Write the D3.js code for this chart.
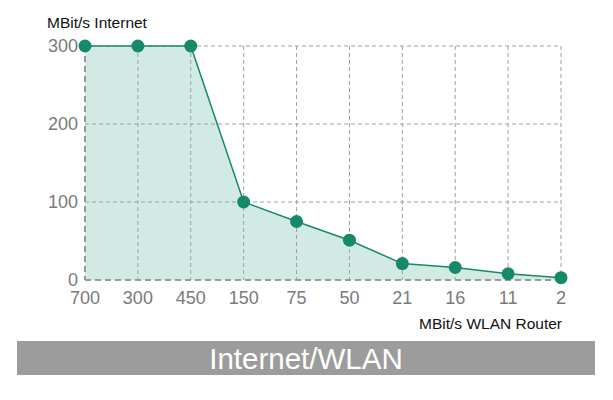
<!DOCTYPE html>
<html><head><meta charset="utf-8">
<script src="https://cdn.jsdelivr.net/npm/d3@7"></script>
<style>body{margin:0;background:#fff}svg{display:block}text{font-family:"Liberation Sans",Arial,sans-serif}</style>
</head><body><svg id="c" width="613" height="400"></svg>
<script>
const categories = ["700","300","450","150","75","50","21","16","11","2"];
const values = [300,300,300,100,75,51,21,16,8,3];
const yTicks = [0,100,200,300];
const yLabel = "MBit/s Internet";
const xLabel = "MBit/s WLAN Router";
const title = "Internet/WLAN";

const svg = d3.select("#c");
const x = d3.scalePoint().domain(categories).range([85,561]);
const y = d3.scaleLinear().domain([0,300]).range([280,46]);
const green = "#168a68", fill = "#d1eae4", grid = "#a0a0a0";

svg.append("path").datum(values)
  .attr("d", d3.area().x((d,i)=>x(categories[i])).y0(y(0)).y1(d=>y(d)))
  .attr("fill", fill);

const g = svg.append("g");
g.selectAll(".v").data(categories.slice(1)).join("line")
  .attr("x1",d=>x(d)).attr("x2",d=>x(d)).attr("y1",y(300)).attr("y2",y(0))
  .attr("stroke",grid).attr("stroke-width",1).attr("stroke-dasharray","4,3");
g.selectAll(".h").data(yTicks.slice(1)).join("line")
  .attr("x1",x(categories[0])).attr("x2",x(categories[categories.length-1]))
  .attr("y1",d=>y(d)).attr("y2",d=>y(d))
  .attr("stroke",grid).attr("stroke-width",1).attr("stroke-dasharray","4,3");
g.append("line").attr("x1",x(categories[0])).attr("x2",x(categories[0])).attr("y1",y(300)).attr("y2",y(0))
  .attr("stroke","#999").attr("stroke-width",2).attr("stroke-dasharray","6,4");
g.append("line").attr("x1",x(categories[0])).attr("x2",x(categories[categories.length-1])).attr("y1",y(0)).attr("y2",y(0))
  .attr("stroke","#999").attr("stroke-width",2).attr("stroke-dasharray","6,4");

svg.append("path").datum(values)
  .attr("d", d3.line().x((d,i)=>x(categories[i])).y(d=>y(d)))
  .attr("fill","none").attr("stroke",green).attr("stroke-width",1.5);
svg.selectAll(".pt").data(values).join("circle")
  .attr("cx",(d,i)=>x(categories[i])).attr("cy",d=>y(d)).attr("r",6.5).attr("fill",green);

svg.selectAll(".yt").data(yTicks).join("text")
  .attr("x",78).attr("y",d=>y(d)+6).attr("text-anchor","end")
  .attr("font-size",18).attr("fill","#7a7a7a").text(d=>d);
svg.selectAll(".xt").data(categories).join("text")
  .attr("x",d=>x(d)).attr("y",304).attr("text-anchor","middle")
  .attr("font-size",18).attr("fill","#7a7a7a").text(d=>d);

svg.append("text").attr("x",47).attr("y",28).attr("font-size",15.5).attr("fill","#111").text(yLabel);
svg.append("text").attr("x",562).attr("y",329).attr("text-anchor","end").attr("font-size",15.5).attr("fill","#111").text(xLabel);

svg.append("rect").attr("x",17).attr("y",341).attr("width",578).attr("height",34).attr("fill","#9c9c9c");
svg.append("text").attr("x",306).attr("y",369).attr("text-anchor","middle").attr("font-size",29.5).attr("fill","#fff").text(title);
</script></body></html>
